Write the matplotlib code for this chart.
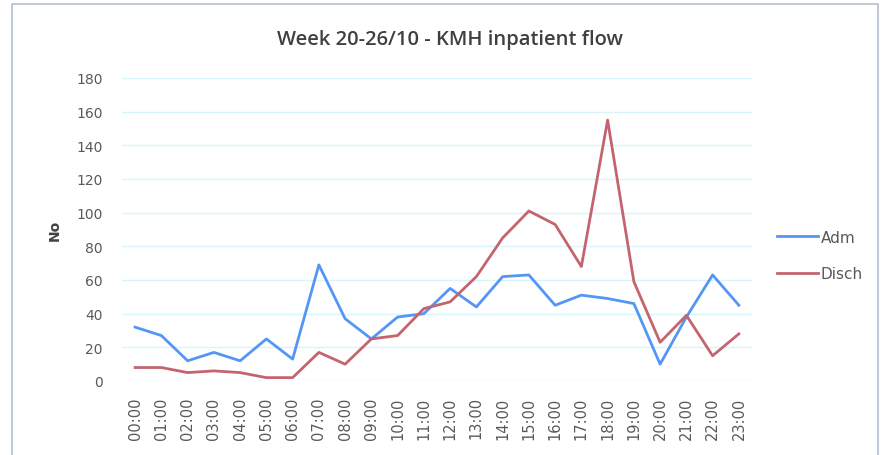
import matplotlib
matplotlib.use("Agg")
import matplotlib.pyplot as plt
from matplotlib.patches import Rectangle

# ---------------------------------------------------------------------------
# Data
# ---------------------------------------------------------------------------
hours = [f"{h:02d}:00" for h in range(24)]
adm = [32, 27, 12, 17, 12, 25, 13, 69, 37, 25, 38, 40,
       55, 44, 62, 63, 45, 51, 49, 46, 10, 38, 63, 45]
disch = [8, 8, 5, 6, 5, 2, 2, 17, 10, 25, 27, 43,
         47, 62, 85, 101, 93, 68, 155, 59, 23, 39, 15, 28]
yticks = list(range(0, 181, 20))

# ---------------------------------------------------------------------------
# Styling
# ---------------------------------------------------------------------------
plt.rcParams["font.family"] = ["DejaVu Sans"]
TXT = "#595959"
GRID = "#d6f6fa"
BLUE = "#5596f5"
RED = "#c4646f"

fig = plt.figure(figsize=(8.84, 4.56), dpi=100)
fig.patch.set_facecolor("white")

# chart frame
fig.add_artist(Rectangle((12 / 884, -0.05), 866 / 884, 1.05 - 5 / 456,
                         transform=fig.transFigure, fill=False,
                         edgecolor="#b4c0d0", linewidth=1.2))

ax = fig.add_axes([122 / 884, 74 / 456, 630 / 884, 303 / 456])
x = list(range(len(hours)))
ax.plot(x, adm, color=BLUE, linewidth=2.0, label="Adm")
ax.plot(x, disch, color=RED, linewidth=2.0, label="Disch")

ax.set_xlim(-0.5, len(hours) - 0.5)
ax.set_ylim(0, 180)
ax.set_yticks(yticks)
ax.set_xticks(x)
ax.set_xticklabels(hours, rotation=90)
ax.grid(axis="y", color=GRID, linewidth=1.0)
ax.set_axisbelow(True)
for s in ax.spines.values():
    s.set_visible(False)
ax.tick_params(length=0, colors=TXT)
ax.tick_params(axis="y", pad=14, labelsize=10)
ax.tick_params(axis="x", pad=11, labelsize=10.5)

ax.set_ylabel("No", color="#404040", fontsize=10, fontweight="bold", labelpad=10)
fig.text(450 / 884, 1 - 40 / 456, "Week 20-26/10 - KMH inpatient flow",
         ha="center", va="center", fontsize=14.5, color="#404040",
         fontweight="semibold", family=["Open Sans", "DejaVu Sans"])

ax.legend(loc="center left", bbox_to_anchor=(777 / 884, 1 - 256.5 / 456),
          bbox_transform=fig.transFigure, borderaxespad=0, borderpad=0,
          frameon=False, fontsize=11, labelcolor=TXT, handlelength=2.7,
          handletextpad=0.15, labelspacing=1.4)

fig.savefig("out.png", dpi=100)
